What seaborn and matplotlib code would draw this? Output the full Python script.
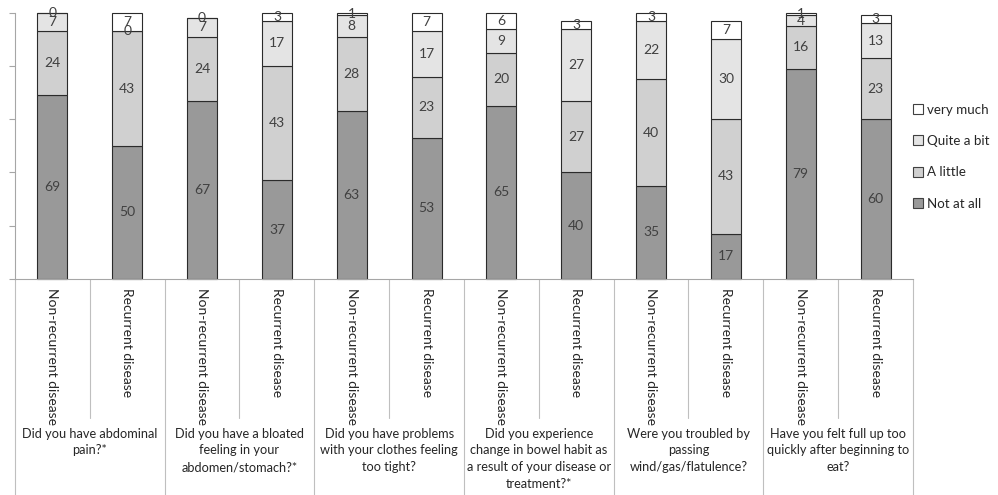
import matplotlib
matplotlib.use("Agg")
import matplotlib.pyplot as plt
import matplotlib.transforms as mtransforms
from matplotlib.patches import Patch
import seaborn as sns
import pandas as pd
import numpy as np

questions = [
    "Did you have abdominal\npain?*",
    "Did you have a bloated\nfeeling in your\nabdomen/stomach?*",
    "Did you have problems\nwith your clothes feeling\ntoo tight?",
    "Did you experience\nchange in bowel habit as\na result of your disease or\ntreatment?*",
    "Were you troubled by\npassing\nwind/gas/flatulence?",
    "Have you felt full up too\nquickly after beginning to\neat?",
]
groups = ["Non-recurrent disease", "Recurrent disease"]
levels = ["Not at all", "A little", "Quite a bit", "very much"]

not_at_all = [69, 50, 67, 37, 63, 53, 65, 40, 35, 17, 79, 60]
a_little = [24, 43, 24, 43, 28, 23, 20, 27, 40, 43, 16, 23]
quite_a_bit = [7, 0, 7, 17, 8, 17, 9, 27, 22, 30, 4, 13]
very_much = [0, 7, 0, 3, 1, 7, 6, 3, 3, 7, 1, 3]

series = [not_at_all, a_little, quite_a_bit, very_much]
colors = ["#999999", "#d0d0d0", "#e4e4e4", "#ffffff"]

sns.set_theme(style="white")
plt.rcParams["font.family"] = ["Lato", "DejaVu Sans"]

keys = [f"{qi}|{g}" for qi in range(len(questions)) for g in groups]
cat_labels = [g for _ in questions for g in groups]

fig = plt.figure(figsize=(9.98, 4.95), dpi=100)
ax = fig.add_axes([15 / 998, 1 - 279 / 495, (913 - 15) / 998, (279 - 12.7) / 495])

bottom = np.zeros(len(keys))
for lvl, vals, col in zip(levels, series, colors):
    df = pd.DataFrame({"key": keys, "value": vals})
    sns.barplot(data=df, x="key", y="value", order=keys, color=col,
                width=0.4, bottom=bottom.copy(), edgecolor="#2b2b2b",
                linewidth=0.8, errorbar=None, ax=ax, saturation=1, clip_on=False)
    for i, v in enumerate(vals):
        ax.text(i, bottom[i] + v / 2, f"{v}", ha="center", va="center",
                fontsize=10, color="#404040")
    bottom += np.array(vals)

ax.set_ylim(0, 100)
ax.set_xlim(-0.5, len(keys) - 0.5)
ax.set_xlabel("")
ax.set_ylabel("")
ax.set_yticks([0, 20, 40, 60, 80, 100])
ax.set_yticklabels([])
ax.set_xticks([])
ax.tick_params(axis="y", length=4, width=0.8, color="#a6a6a6", left=True)
for s in ["top", "right"]:
    ax.spines[s].set_visible(False)
for s in ["left", "bottom"]:
    ax.spines[s].set_color("#a6a6a6")
    ax.spines[s].set_linewidth(0.8)

trans = mtransforms.blended_transform_factory(ax.transData, fig.transFigure)
y_axis = 1 - 279 / 495
for i in range(len(keys) + 1):
    x = i - 0.5
    y_end = 0 if i % 2 == 0 else 1 - 418 / 495
    ax.plot([x, x], [y_axis, y_end], transform=trans, color="#bfbfbf",
            lw=0.8, clip_on=False)

for i, lab in enumerate(cat_labels):
    ax.text(i, 1 - 288 / 495, lab, rotation=270, ha="center", va="top",
            fontsize=10, color="#262626", transform=trans)

for qi, q in enumerate(questions):
    ax.text(2 * qi + 0.5, 1 - 428 / 495, q, ha="center", va="top",
            multialignment="center", fontsize=9.2, color="#262626",
            linespacing=1.45, transform=trans)

handles = [Patch(facecolor=c, edgecolor="#404040", linewidth=0.8, label=l)
           for l, c in zip(levels, colors)][::-1]
fig.legend(handles=handles, loc="upper left",
           bbox_to_anchor=(906 / 998, 1 - 97 / 495), frameon=False,
           fontsize=9.6, handlelength=0.75, handleheight=0.75,
           handletextpad=0.3, labelspacing=1.45, borderpad=0, labelcolor="#262626")

fig.savefig("out.png", dpi=100)
